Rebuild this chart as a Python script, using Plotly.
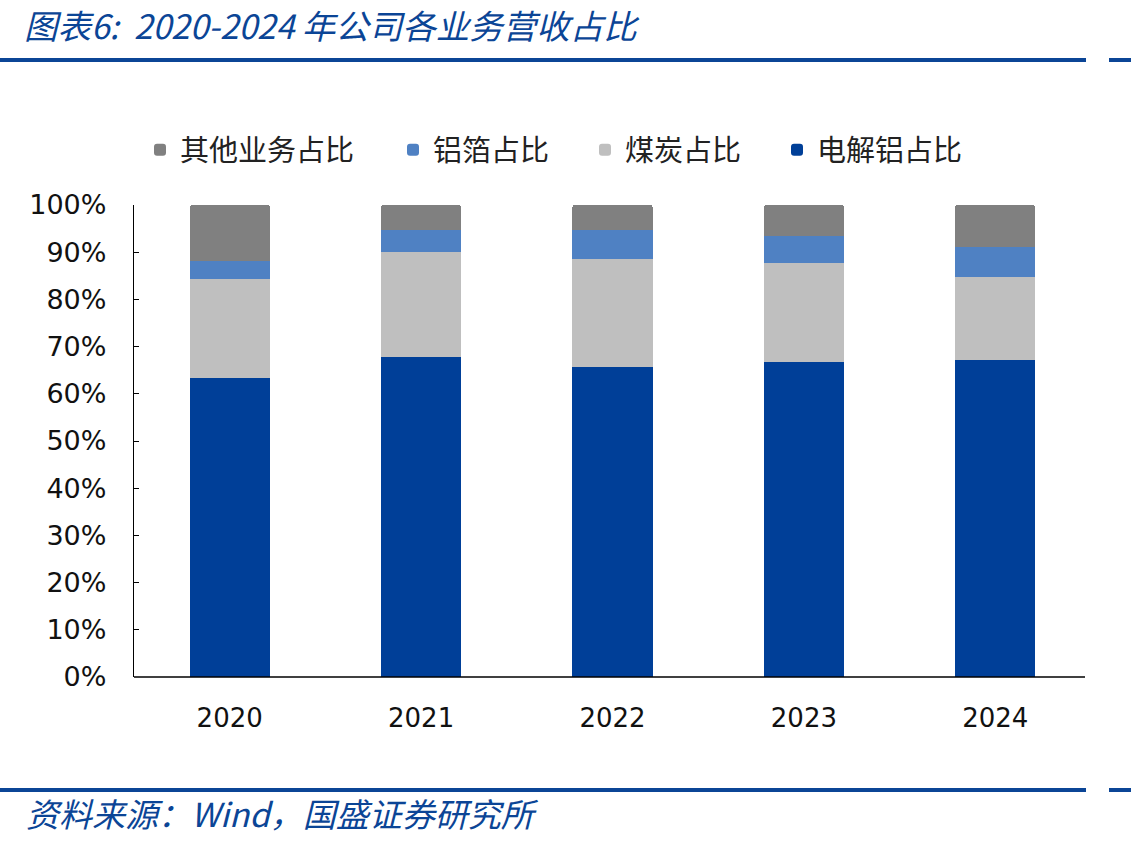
import plotly.graph_objects as go

years = ["2020", "2021", "2022", "2023", "2024"]
aluminum = [0.633, 0.679, 0.656, 0.668, 0.672]   # 电解铝占比
coal = [0.210, 0.221, 0.230, 0.209, 0.175]       # 煤炭占比
foil = [0.039, 0.046, 0.060, 0.058, 0.065]       # 铝箔占比
other = [0.118, 0.054, 0.054, 0.065, 0.088]      # 其他业务占比

W, H = 1131, 845
L, R, T, B = 134, 1091, 205, 677

def px(x):
    return (x - L) / (R - L)

def py(y):
    return (B - y) / (B - T)

BLUE_TXT = "#0B4596"
CJK = "Noto Sans CJK SC"

fig = go.Figure()
series = [
    ("电解铝占比", aluminum, "#003F98", "legend4", 777),
    ("煤炭占比", coal, "#BFBFBF", "legend3", 585),
    ("铝箔占比", foil, "#4F81C3", "legend2", 393),
    ("其他业务占比", other, "#808080", "legend", 140),
]
legend_common = dict(orientation="h", y=py(150), xanchor="left", yanchor="middle",
                     font=dict(family=CJK, size=29, color="#222222"),
                     itemwidth=30, bgcolor="rgba(0,0,0,0)")
legends = {}
for name, vals, col, lg, lx in series:
    fig.add_trace(go.Bar(x=years, y=vals, name=name, legend=lg,
                         marker=dict(color=col, line=dict(width=0)),
                         width=0.42))
    legends[lg] = dict(legend_common, x=px(lx))

fig.update_layout(
    width=W, height=H,
    barmode="stack",
    barcornerradius=3,
    paper_bgcolor="white", plot_bgcolor="white",
    margin=dict(l=L, r=W - R, t=T, b=H - B, pad=0),
    showlegend=True,
    font=dict(family="DejaVu Sans", color="#111111"),
    **legends,
)

fig.update_yaxes(range=[0, 1], tickvals=[i / 10 for i in range(11)],
                 tickformat=".0%", ticks="inside", ticklen=5, tickcolor="black",
                 showline=True, linecolor="black", linewidth=1.3,
                 showgrid=False, zeroline=False,
                 tickfont=dict(family="DejaVu Sans", size=27, color="#111111"),
                 ticklabelstandoff=21)
fig.update_xaxes(showline=False, showgrid=False, ticks="",
                 tickfont=dict(family="DejaVu Sans", size=26, color="#111111"),
                 ticklabelstandoff=23, range=[-0.5, 4.5])

shapes = [
    dict(type="line", xref="paper", yref="paper", x0=px(134), x1=px(1085),
         y0=0, y1=0, line=dict(color="black", width=1.3)),
    dict(type="line", xref="paper", yref="paper", x0=px(0), x1=px(1086),
         y0=py(60), y1=py(60), line=dict(color="#0B4596", width=4)),
    dict(type="line", xref="paper", yref="paper", x0=px(1109), x1=px(1131),
         y0=py(60), y1=py(60), line=dict(color="#0B4596", width=4)),
    dict(type="line", xref="paper", yref="paper", x0=px(0), x1=px(1086),
         y0=py(790), y1=py(790), line=dict(color="#0B4596", width=4)),
    dict(type="line", xref="paper", yref="paper", x0=px(1109), x1=px(1131),
         y0=py(790), y1=py(790), line=dict(color="#0B4596", width=4)),
]
fig.update_layout(shapes=shapes)

fig.add_annotation(text="<i>图表6:  2020-2024 年公司各业务营收占比</i>",
                   xref="paper", yref="paper", x=px(22), y=py(25),
                   xanchor="left", yanchor="middle", showarrow=False,
                   font=dict(family=CJK, size=33.5, color=BLUE_TXT))
fig.add_annotation(text="<i>资料来源：Wind，国盛证券研究所</i>",
                   xref="paper", yref="paper", x=px(24), y=py(813),
                   xanchor="left", yanchor="middle", showarrow=False,
                   font=dict(family=CJK, size=33, color=BLUE_TXT))

fig.write_html("out.html")
